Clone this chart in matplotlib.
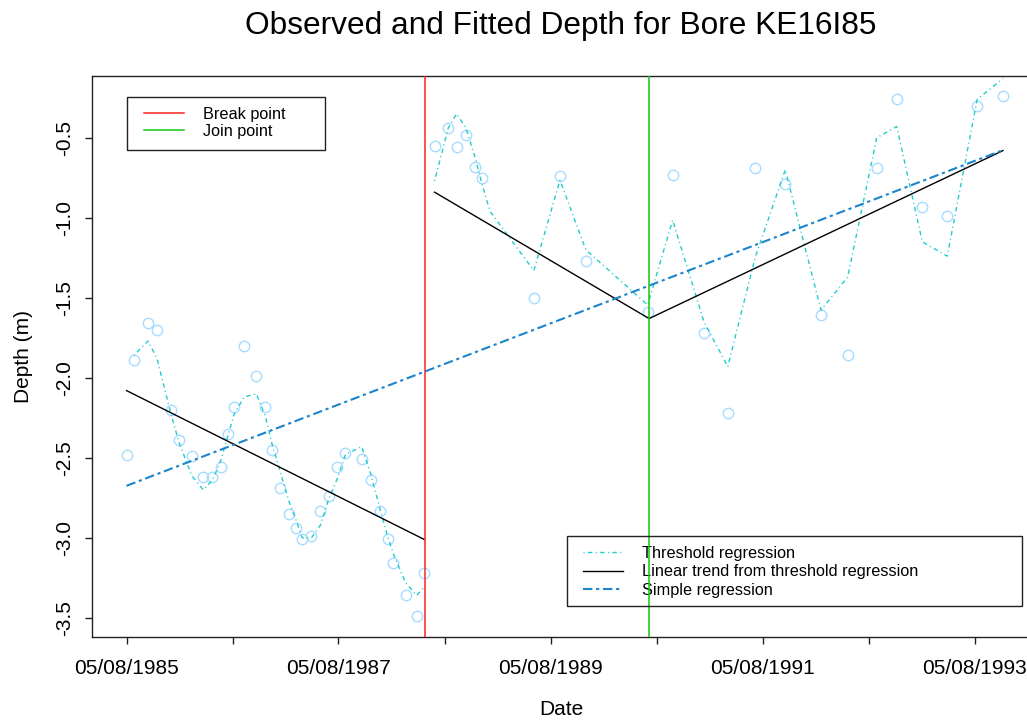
import matplotlib
matplotlib.use("Agg")
import matplotlib.pyplot as plt
import pandas as pd
from matplotlib.lines import Line2D
from matplotlib.patches import Rectangle
from matplotlib.ticker import FixedLocator, FixedFormatter

plt.rcParams.update({
    "font.family": ["Liberation Sans", "DejaVu Sans"],
    "axes.linewidth": 1.0,
})

# ── observed depths ──────────────────────────────────────────────────────────
obs_dates = [
    "1985-08-05", "1985-08-30", "1985-10-18", "1985-11-18", "1986-01-04", "1986-02-01",
    "1986-03-17", "1986-04-26", "1986-05-28", "1986-06-25", "1986-07-19", "1986-08-10",
    "1986-09-14", "1986-10-26", "1986-11-26", "1986-12-20", "1987-01-15", "1987-02-15",
    "1987-03-10", "1987-04-02", "1987-05-04", "1987-06-04", "1987-07-02", "1987-08-01",
    "1987-08-29", "1987-10-24", "1987-11-24", "1987-12-26", "1988-01-21", "1988-02-10",
    "1988-03-23", "1988-04-30", "1988-05-26",
    "1988-07-01", "1988-08-17", "1988-09-15", "1988-10-17", "1988-11-17", "1988-12-13",
    "1989-06-08", "1989-09-06", "1989-12-04", "1990-07-05", "1990-09-29", "1991-01-15",
    "1991-04-07", "1991-07-10", "1991-10-22", "1992-02-22", "1992-05-24", "1992-09-01",
    "1992-11-09", "1993-02-05", "1993-05-02", "1993-08-13", "1993-11-10",
]
obs_depth = [
    -2.48, -1.89, -1.66, -1.70, -2.20, -2.39, -2.49, -2.62, -2.62, -2.56, -2.35, -2.18,
    -1.80, -1.99, -2.18, -2.45, -2.69, -2.85, -2.94, -3.01, -2.99, -2.83, -2.74, -2.56,
    -2.47, -2.51, -2.64, -2.83, -3.01, -3.16, -3.36, -3.49, -3.22,
    -0.55, -0.44, -0.56, -0.48, -0.68, -0.75, -1.50, -0.74, -1.27, -1.59, -0.73, -1.72,
    -2.22, -0.69, -0.79, -1.61, -1.86, -0.69, -0.26, -0.93, -0.99, -0.30, -0.24,
]

# ── threshold regression fit (before / after break) ─────────────────────────
thr1_dates = obs_dates[1:33]
thr1_depth = [
    -1.86, -1.77, -1.88, -2.22, -2.40, -2.61, -2.70, -2.64, -2.52, -2.37, -2.23,
    -2.12, -2.10, -2.24, -2.42, -2.58, -2.77, -2.88, -3.00, -3.00, -2.92, -2.76,
    -2.63, -2.48, -2.43, -2.60, -2.82, -2.99, -3.10, -3.28, -3.36, -3.31,
]
thr2_dates = [
    "1988-07-01", "1988-08-17", "1988-09-15", "1988-10-17", "1988-11-17", "1988-12-13",
    "1989-01-08", "1989-06-08", "1989-09-06", "1989-12-04", "1990-07-05", "1990-09-29",
    "1991-01-15", "1991-04-07", "1991-07-10", "1991-10-22", "1992-02-22", "1992-05-24",
    "1992-09-01", "1992-11-09", "1993-02-05", "1993-05-02", "1993-08-13", "1993-11-10",
]
thr2_depth = [
    -0.77, -0.44, -0.35, -0.44, -0.62, -0.80, -0.96, -1.33, -0.765, -1.20, -1.545, -1.015,
    -1.65, -1.93, -1.25, -0.70, -1.577, -1.37, -0.50, -0.43, -1.15, -1.24, -0.26, -0.13,
]

# ── linear trend from threshold regression ──────────────────────────────────
trend1_dates = ["1985-08-05", "1988-05-26"]
trend1_depth = [-2.08, -3.01]
trend2_dates = ["1988-07-01", "1990-07-10", "1993-11-10"]
trend2_depth = [-0.84, -1.63, -0.58]

# ── simple regression ───────────────────────────────────────────────────────
simple_dates = ["1985-08-05", "1993-11-10"]
simple_depth = [-2.675, -0.577]

break_date = "1988-05-28"
join_date = "1990-07-10"

tick_dates = ["1985-08-05", "1986-08-05", "1987-08-05", "1988-08-05", "1989-08-05",
              "1990-08-05", "1991-08-05", "1992-08-05", "1993-08-05"]
tick_labels = ["05/08/1985", "", "05/08/1987", "", "05/08/1989", "", "05/08/1991", "", "05/08/1993"]
y_ticks = [-3.5, -3.0, -2.5, -2.0, -1.5, -1.0, -0.5]

D = pd.to_datetime

fig = plt.figure(figsize=(10.27, 7.21), dpi=100)
W, H = 1027, 721
ax = fig.add_axes([92 / W, 1 - 637 / H, (1030 - 92) / W, (637 - 76) / H])

c_obs = "#a6dcff"
c_thr = "#1fcccc"
c_simple = "#1a84cc"
thr_dash = (0.8, 2.4, 3.2, 2.4)
simple_dash = (4.5, 1.8, 1.5, 1.8)

ax.plot(D(obs_dates), obs_depth, "o", mfc="none", mec=c_obs, ms=7.5, mew=1.0, zorder=2)
ax.plot(D(thr1_dates), thr1_depth, color=c_thr, lw=1.0, dashes=thr_dash, zorder=3)
ax.plot(D(thr2_dates), thr2_depth, color=c_thr, lw=1.0, dashes=thr_dash, zorder=3)
ax.plot(D(trend1_dates), trend1_depth, color="black", lw=1.0, zorder=4)
ax.plot(D(trend2_dates), trend2_depth, color="black", lw=1.0, zorder=4)
ax.plot(D(simple_dates), simple_depth, color=c_simple, lw=1.5, dashes=simple_dash, zorder=5)
ax.axvline(D(break_date), color="#ff2020", lw=1.1, zorder=6)
ax.axvline(D(join_date), color="#10c810", lw=1.1, zorder=6)

ax.set_xlim(D("1985-04-08"), D("1994-02-11"))
ax.set_ylim(-3.62, -0.114)
ax.xaxis.set_major_locator(FixedLocator(matplotlib.dates.date2num(D(tick_dates))))
ax.xaxis.set_major_formatter(FixedFormatter(tick_labels))
ax.set_yticks(y_ticks)
ax.set_yticklabels([f"{v:.1f}" for v in y_ticks], rotation=90, va="center")
ax.tick_params(length=5, width=1.0, labelsize=15, color="#222222")
ax.tick_params(axis="x", pad=11)
ax.tick_params(axis="y", pad=8)
for s in ax.spines.values():
    s.set_color("#222222")

ax.set_xlabel("Date", fontsize=15, labelpad=16)
ax.set_ylabel("Depth (m)", fontsize=15, labelpad=16)
ax.set_title("Observed and Fitted Depth for Bore KE16I85", fontsize=22.8, pad=30)

# legends with R-style square boxes
leg_kw = dict(frameon=False, fontsize=11.7, handlelength=2.45, handletextpad=1.17,
              borderpad=0, borderaxespad=0, loc="upper left",
              bbox_transform=fig.transFigure)
h1 = [Line2D([], [], color="#ff2020", lw=1.1), Line2D([], [], color="#10c810", lw=1.1)]
leg1 = ax.legend(h1, ["Break point", "Join point"], labelspacing=0.1,
                 bbox_to_anchor=(144 / W, 1 - 107 / H), **leg_kw)
ax.add_artist(leg1)
h2 = [Line2D([], [], color=c_thr, lw=1.0, dashes=thr_dash),
      Line2D([], [], color="black", lw=1.0),
      Line2D([], [], color=c_simple, lw=1.5, dashes=simple_dash)]
ax.legend(h2, ["Threshold regression", "Linear trend from threshold regression", "Simple regression"],
          labelspacing=0.2, bbox_to_anchor=(583 / W, 1 - 546 / H), **leg_kw)
for x0, y0, x1, y1 in [(127, 97, 325, 150), (567, 536, 1022, 606)]:
    fig.patches.append(Rectangle((x0 / W, 1 - y1 / H), (x1 - x0) / W, (y1 - y0) / H,
                                 transform=fig.transFigure, fill=False, ec="#222222", lw=1.0))

fig.savefig("out.png", dpi=100)
